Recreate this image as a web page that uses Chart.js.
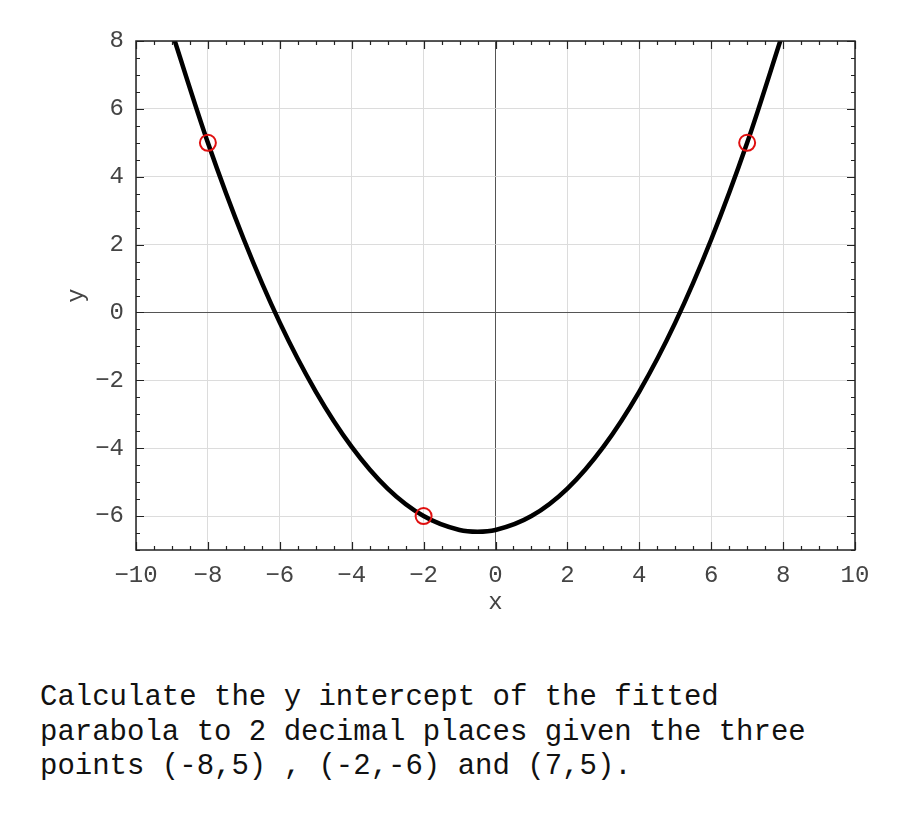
<!DOCTYPE html>
<html>
<head>
<meta charset="utf-8">
<script src="https://cdn.jsdelivr.net/npm/chart.js@4/dist/chart.umd.min.js"></script>
<style>
	body { margin: 0; background: #fff; }
	#wrap { position: absolute; left: 0; top: 0; width: 900px; height: 640px; }
	#question {
		position: absolute; left: 40px; top: 681px;
		font-family: "Liberation Mono", "Courier New", monospace;
		font-size: 29px; line-height: 34.5px; color: #111;
		white-space: pre;
	}
</style>
</head>
<body>
<div id="wrap"><canvas id="parabolaChart"></canvas></div>
<div id="question">Calculate the y intercept of the fitted
parabola to 2 decimal places given the three
points (-8,5) , (-2,-6) and (7,5).</div>
<script>

// the three given points
const pointX = [-8, -2, 7];
const pointY = [5, -6, 5];

// fitted curve
const curveX = [-9, -8, -7, -6, -5, -4, -3, -2, -1, -0.5, 0, 1, 2, 3, 4, 5, 6, 7, 8];
const curveY = [8.26, 5, 2.15, -0.30, -2.33, -3.96, -5.19, -6, -6.41, -6.46, -6.41, -6, -5.19, -3.96, -2.33, -0.30, 2.15, 5, 8.26];

// axes
const xMin = -10, xMax = 10, xStep = 2;
const yMin = -7, yMax = 8, yStep = 2;
const minorStep = 0.5;

const monoFont = '"Liberation Mono", "Courier New", monospace';

function minus(v) {
	return String(v).replace('-', '\u2212');
}

// inward major/minor ticks on all four sides
const innerTicks = {
	id: 'innerTicks',
	afterDatasetsDraw(chart) {
		let ctx = chart.ctx;
		let a = chart.chartArea;
		let xs = chart.scales.x, ys = chart.scales.y;
		ctx.save();
		ctx.strokeStyle = '#222';
		ctx.lineWidth = 1.2;
		ctx.beginPath();
		for (let v = xMin; v <= xMax + 1e-9; v += minorStep) {
			let len = Math.abs(v % xStep) < 1e-9 ? 8 : 4;
			let px = Math.round(xs.getPixelForValue(v)) + 0.5;
			ctx.moveTo(px, a.bottom); ctx.lineTo(px, a.bottom - len);
			ctx.moveTo(px, a.top); ctx.lineTo(px, a.top + len);
		}
		for (let v = yMin; v <= yMax + 1e-9; v += minorStep) {
			let len = Math.abs((v - yMin - 1) % yStep) < 1e-9 ? 8 : 4;
			let py = Math.round(ys.getPixelForValue(v)) + 0.5;
			ctx.moveTo(a.left, py); ctx.lineTo(a.left + len, py);
			ctx.moveTo(a.right, py); ctx.lineTo(a.right - len, py);
		}
		ctx.stroke();
		ctx.lineWidth = 1.5;
		ctx.strokeRect(a.left, a.top, a.right - a.left, a.bottom - a.top);
		ctx.restore();
	}
};

function addParabolaChart() {

	let ctx = document.getElementById('parabolaChart').getContext('2d');
	let myChart = new Chart(ctx, {
		type: 'scatter',
		data: {
			datasets: [{
				data: pointX.map((x, i) => ({ x: x, y: pointY[i] })),
				pointRadius: 8,
				pointHoverRadius: 8,
				pointBorderWidth: 2,
				pointBorderColor: '#e01010',
				pointBackgroundColor: 'rgba(0,0,0,0)',
				order: 0,
			}, {
				type: 'line',
				data: curveX.map((x, i) => ({ x: x, y: curveY[i] })),
				borderColor: '#000',
				borderWidth: 4.5,
				pointRadius: 0,
				cubicInterpolationMode: 'monotone',
				fill: false,
				order: 1,
			}],
		},
		options: {
			responsive: true,
			maintainAspectRatio: false,
			animation: false,
			layout: { padding: { top: 41, right: 45, left: 58, bottom: 19 } },
			plugins: {
				legend: { display: false },
				tooltip: { enabled: false },
			},
			scales: {
				x: {
					type: 'linear', min: xMin, max: xMax,
					afterFit: s => { s.height = 71; },
					grid: {
						drawTicks: false,
						color: c => c.tick.value === 0 ? '#555' : '#dcdcdc',
						lineWidth: 1,
					},
					border: { display: false },
					ticks: {
						stepSize: xStep, padding: 11, color: '#444',
						font: { family: monoFont, size: 24 },
						callback: v => minus(v),
					},
					title: {
						display: true, text: 'x', color: '#444', padding: { top: 0 },
						font: { family: monoFont, size: 24 },
					},
				},
				y: {
					type: 'linear', min: yMin, max: yMax,
					afterFit: s => { s.width = 78; },
					afterBuildTicks: s => {
						s.ticks = [];
						for (let v = -6; v <= yMax; v += yStep) s.ticks.push({ value: v });
					},
					grid: {
						drawTicks: false,
						color: c => c.tick.value === 0 ? '#555' : '#dcdcdc',
						lineWidth: 1,
					},
					border: { display: false },
					ticks: {
						padding: 12, color: '#444',
						font: { family: monoFont, size: 24 },
						callback: v => minus(v),
					},
					title: {
						display: true, text: 'y', color: '#444',
						font: { family: monoFont, size: 24 },
					},
				},
			},
		},
		plugins: [innerTicks],
	});

}

addParabolaChart();
</script>
</body>
</html>
